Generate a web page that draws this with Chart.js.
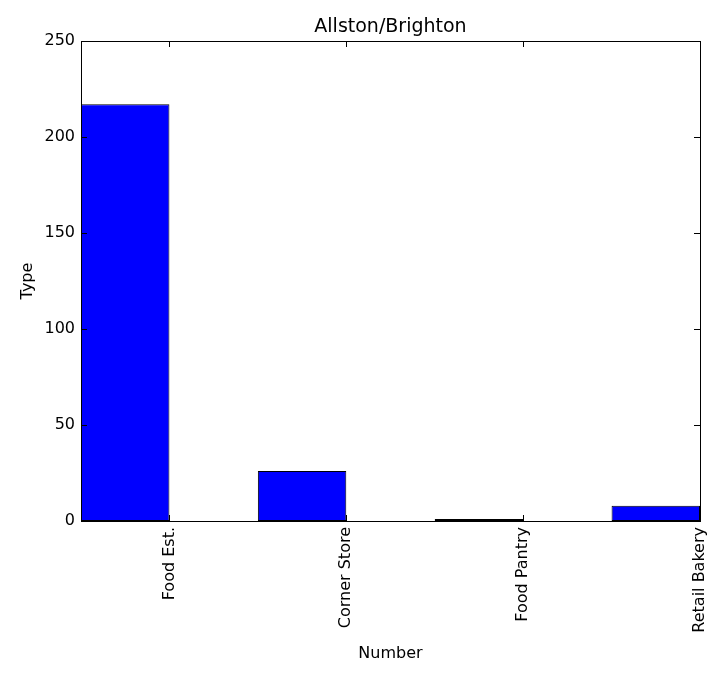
<!DOCTYPE html>
<html>
<head>
<meta charset="utf-8">
<script src="https://cdn.jsdelivr.net/npm/chart.js@4/dist/chart.umd.min.js"></script>
<style>
  html, body { margin: 0; padding: 0; background: #fff; }
  #wrap { width: 728px; height: 681px; }
</style>
</head>
<body>
<div id="wrap"><canvas id="c"></canvas></div>
<script>
const categories = ["Food Est.", "Corner Store", "Food Pantry", "Retail Bakery"];
const counts = [217, 26, 1, 8];
const yTicks = [0, 50, 100, 150, 200, 250];

const FONT = "'DejaVu Sans', sans-serif";

// classic matplotlib frame: black box, inward ticks on all four sides, title
const framePlugin = {
  id: "frame",
  afterDraw(chart) {
    const { ctx, chartArea: a, scales } = chart;
    ctx.save();
    ctx.strokeStyle = "#000";
    ctx.lineWidth = 1;
    ctx.strokeRect(a.left + 0.5, a.top + 0.5, a.right - a.left, a.bottom - a.top);
    ctx.beginPath();
    yTicks.forEach((v) => {
      const y = Math.round(scales.y.getPixelForValue(v)) + 0.5;
      ctx.moveTo(a.left, y); ctx.lineTo(a.left + 6, y);
      ctx.moveTo(a.right, y); ctx.lineTo(a.right - 6, y);
    });
    categories.forEach((c, i) => {
      const x = Math.round(scales.x.getPixelForValue(i + 0.5)) + 0.5;
      ctx.moveTo(x, a.bottom); ctx.lineTo(x, a.bottom - 6);
      ctx.moveTo(x, a.top); ctx.lineTo(x, a.top + 6);
    });
    ctx.stroke();
    ctx.fillStyle = "#000";
    ctx.font = "19px " + FONT;
    ctx.textAlign = "center";
    ctx.textBaseline = "bottom";
    ctx.fillText("Allston/Brighton", (a.left + a.right) / 2, a.top - 4);
    ctx.restore();
  },
};

new Chart(document.getElementById("c"), {
  type: "bar",
  data: {
    datasets: [
      {
        data: counts.map((v, i) => ({ x: i + 0.25, y: v })),
        backgroundColor: "#0000ff",
        borderColor: "#000",
        borderWidth: 1,
        borderSkipped: false,
        categoryPercentage: 1,
        barPercentage: 0.5,
      },
    ],
  },
  options: {
    responsive: true,
    maintainAspectRatio: false,
    animation: false,
    layout: { padding: { top: 41, right: 28, left: 14, bottom: 14 } },
    plugins: { legend: { display: false }, tooltip: { enabled: false } },
    scales: {
      x: {
        type: "linear",
        offset: false,
        min: 0,
        max: 3.5,
        afterBuildTicks(scale) {
          scale.ticks = categories.map((c, i) => ({ value: i + 0.5 }));
        },
        afterFit(scale) { scale.height = 146; },
        grid: { display: false, drawTicks: false },
        border: { display: false },
        ticks: {
          color: "#000",
          font: { family: FONT, size: 16 },
          minRotation: 90,
          maxRotation: 90,
          padding: 6,
          callback: (v) => categories[Math.round(v - 0.5)],
        },
        title: { display: true, text: "Number", color: "#000", font: { family: FONT, size: 16 }, padding: { top: 4 } },
      },
      y: {
        min: 0,
        max: 250,
        afterBuildTicks(scale) {
          scale.ticks = yTicks.map((v) => ({ value: v }));
        },
        afterFit(scale) { scale.width = 67; },
        grid: { display: false, drawTicks: false },
        border: { display: false },
        ticks: { color: "#000", font: { family: FONT, size: 16 }, padding: 6 },
        title: { display: true, text: "Type", color: "#000", font: { family: FONT, size: 16 }, padding: { bottom: 4 } },
      },
    },
  },
  plugins: [framePlugin],
});
</script>
</body>
</html>
